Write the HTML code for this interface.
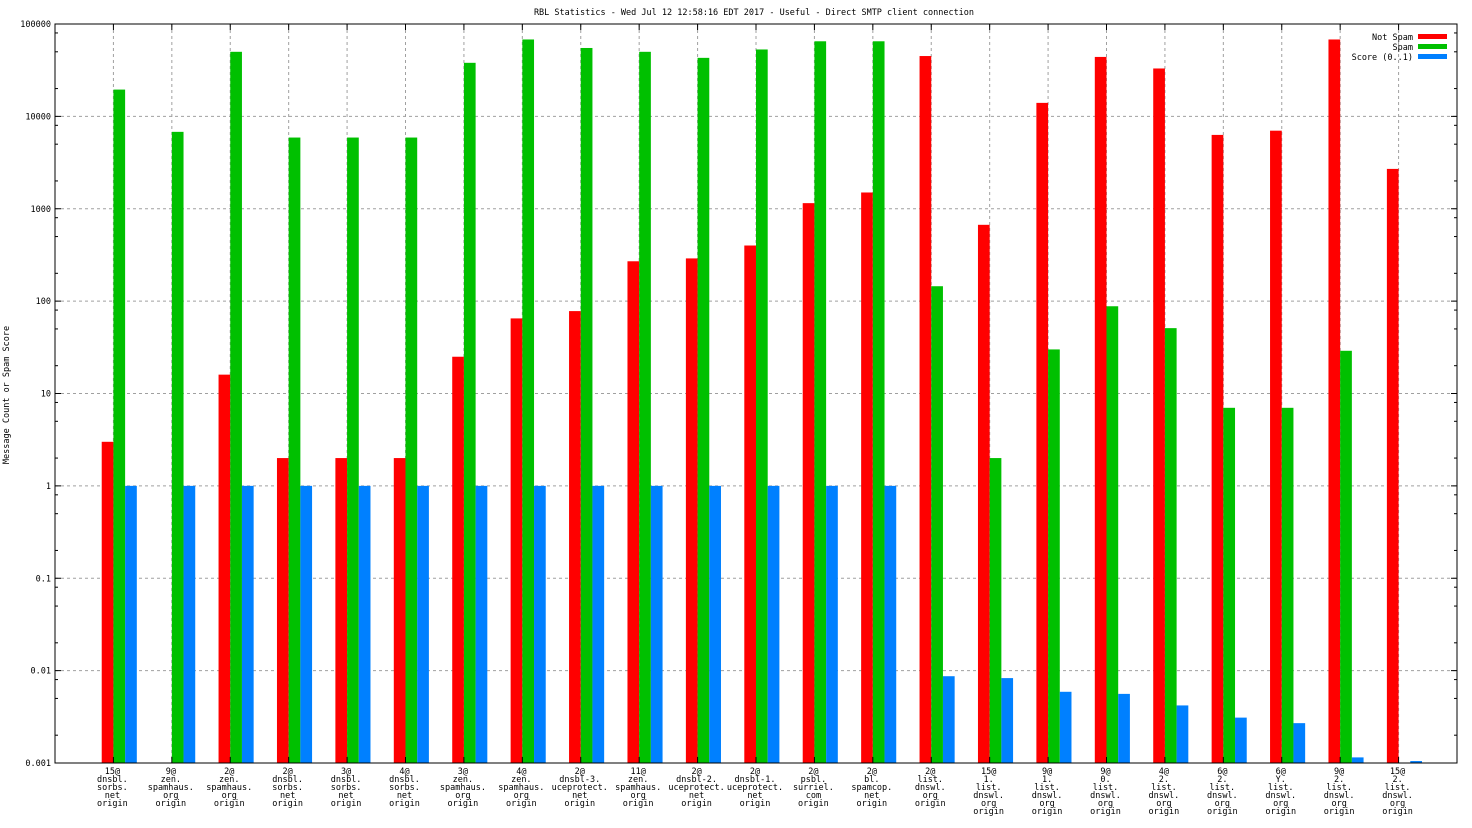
<!DOCTYPE html>
<html><head><meta charset="utf-8"><style>
html,body{margin:0;padding:0;background:#fff;}
svg{display:block;font-family:"DejaVu Sans Mono","Liberation Mono",monospace;font-size:8.5px;}
</style></head><body>
<svg id="chart" width="1472" height="828" viewBox="0 0 1472 828" xmlns="http://www.w3.org/2000/svg">
<rect width="1472" height="828" fill="#fff"/>
<text x="754" y="15" text-anchor="middle">RBL Statistics - Wed Jul 12 12:58:16 EDT 2017 - Useful - Direct SMTP client connection</text>
<text transform="translate(9,395) rotate(-90)" text-anchor="middle">Message Count or Spam Score</text>
<g id="grid"></g><g id="bars"></g><g id="axes"></g>
<g>
<text x="1413" y="40" text-anchor="end">Not Spam</text>
<rect x="1418" y="34" width="29" height="5" fill="#ff0000"/>
<text x="1413" y="50" text-anchor="end">Spam</text>
<rect x="1418" y="44" width="29" height="5" fill="#00c000"/>
<text x="1413" y="60" text-anchor="end">Score (0..1)</text>
<rect x="1418" y="54" width="29" height="5" fill="#0080ff"/>
</g>
</svg>
<script>
const categories = [
["15@","dnsbl.","sorbs.","net","origin"],["9@","zen.","spamhaus.","org","origin"],["2@","zen.","spamhaus.","org","origin"],
["2@","dnsbl.","sorbs.","net","origin"],["3@","dnsbl.","sorbs.","net","origin"],["4@","dnsbl.","sorbs.","net","origin"],
["3@","zen.","spamhaus.","org","origin"],["4@","zen.","spamhaus.","org","origin"],["2@","dnsbl-3.","uceprotect.","net","origin"],
["11@","zen.","spamhaus.","org","origin"],["2@","dnsbl-2.","uceprotect.","net","origin"],["2@","dnsbl-1.","uceprotect.","net","origin"],
["2@","psbl.","surriel.","com","origin"],["2@","bl.","spamcop.","net","origin"],["2@","list.","dnswl.","org","origin"],
["15@","1.","list.","dnswl.","org","origin"],["9@","1.","list.","dnswl.","org","origin"],["9@","0.","list.","dnswl.","org","origin"],
["4@","2.","list.","dnswl.","org","origin"],["6@","2.","list.","dnswl.","org","origin"],["6@","Y.","list.","dnswl.","org","origin"],
["9@","2.","list.","dnswl.","org","origin"],["15@","2.","list.","dnswl.","org","origin"]];
const notSpam = [3,0,16,2,2,2,25,65,78,270,290,400,1150,1500,45000,670,14000,44000,33000,6300,7000,68000,2700];
const spam = [19500,6800,50000,5900,5900,5900,38000,68000,55000,50000,43000,53000,65000,65000,145,2,30,88,51,7,7,29,0];
const score = [1,1,1,1,1,1,1,1,1,1,1,1,1,1,0.0087,0.0083,0.0059,0.0056,0.0042,0.0031,0.0027,0.00115,0.00105];
const yTicks = ["0.001","0.01","0.1","1","10","100","1000","10000","100000"];

const NS="http://www.w3.org/2000/svg";
const L=55,R=1457,T=24,B=763;
const yMinLog=-3,yMaxLog=5;
function y(v){return B-(Math.log10(v)-yMinLog)/(yMaxLog-yMinLog)*(B-T);}
function x(i){return L+(i+1)*(R-L)/(categories.length+1);}
const bw=11.7;
function mk(tag,attrs,parent){const e=document.createElementNS(NS,tag);for(const k in attrs)e.setAttribute(k,attrs[k]);parent.appendChild(e);return e;}
const grid=document.getElementById('grid'),bars=document.getElementById('bars'),axes=document.getElementById('axes');
yTicks.forEach((t,i)=>{
  const yy=y(parseFloat(t));
  if(i>0&&i<yTicks.length-1){const g=mk('line',{x1:L,x2:R,y1:yy,y2:yy,stroke:'#a0a0a0','stroke-dasharray':'3,3','stroke-width':1},grid);
  
  }
  mk('line',{x1:L,x2:L+6,y1:yy,y2:yy,stroke:'#000'},axes);
  mk('line',{x1:R,x2:R-6,y1:yy,y2:yy,stroke:'#000'},axes);
  if(i<yTicks.length-1){[2,5,8].forEach(m=>{const my=y(parseFloat(t)*m);
    mk('line',{x1:L,x2:L+3,y1:my,y2:my,stroke:'#000'},axes);mk('line',{x1:R,x2:R-3,y1:my,y2:my,stroke:'#000'},axes);});}
  const tx=mk('text',{x:L-4,y:yy+3,'text-anchor':'end'},axes);tx.textContent=t;
  
  
});
categories.forEach((c,i)=>{
  const cx=x(i);
  const g=mk('line',{x1:cx,x2:cx,y1:T,y2:B,stroke:'#a0a0a0','stroke-dasharray':'3,3'},grid);
  
  
  mk('line',{x1:cx,x2:cx,y1:B,y2:B-6,stroke:'#000'},axes);
  mk('line',{x1:cx,x2:cx,y1:T,y2:T+6,stroke:'#000'},axes);
  [[notSpam,'#ff0000',-bw,'bar-not-spam'],[spam,'#00c000',0,'bar-spam'],[score,'#0080ff',bw,'bar-score']].forEach(([arr,col,off,nm])=>{
    const v=arr[i]; if(!(v>0.001))return;
    const top=y(v);
    const r=mk('rect',{x:cx+off,y:top,width:bw,height:B-top,fill:col},bars);
    
    
  });
  const t=mk('text',{x:cx-1,'text-anchor':'middle'},axes);
  
  
  c.forEach((ln,k)=>{const s=mk('tspan',{x:cx-1,y:774+k*8},t);s.textContent=ln;});
});
mk('rect',{x:L,y:T,width:R-L,height:B-T,fill:'none',stroke:'#000','stroke-width':1},axes);
</script>
</body></html>
